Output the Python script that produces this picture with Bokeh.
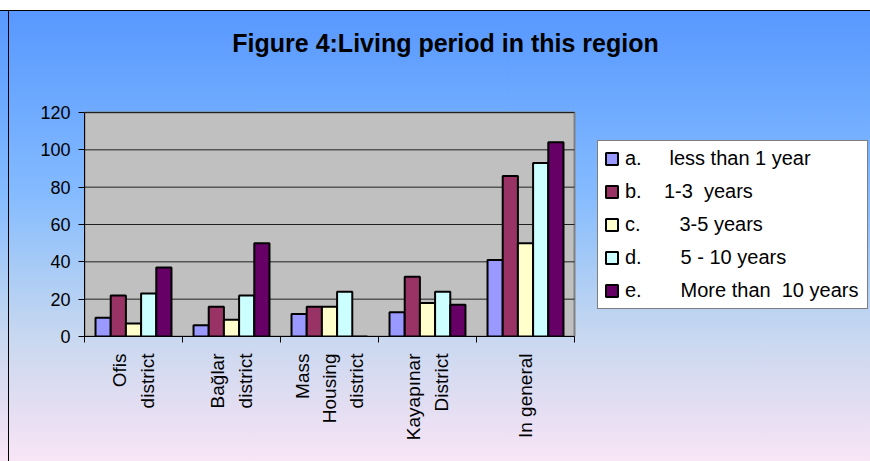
import math
from bokeh.plotting import figure
from bokeh.models import (Range1d, LinearAxis, FixedTicker, Legend, LegendItem, Label,
                          ColumnDataSource)
from bokeh.embed import file_html
from bokeh.resources import INLINE

# ---- data ----
categories = ["Ofis\ndistrict", "Bağlar\ndistrict", "Mass\nHousing\ndistrict",
              "Kayapınar\nDistrict", "In general"]
series_names = ["a.     less than 1 year", "b.    1-3  years", "c.       3-5 years",
                "d.       5 - 10 years", "e.       More than  10 years"]
less_than_1 = [10, 6, 12, 13, 41]
one_to_3 = [22, 16, 16, 32, 86]
three_to_5 = [7, 9, 16, 18, 50]
five_to_10 = [23, 22, 24, 24, 93]
more_than_10 = [37, 50, 0, 17, 104]
y_ticks = [0, 20, 40, 60, 80, 100, 120]
title_text = "Figure 4:Living period in this region"

series = [less_than_1, one_to_3, three_to_5, five_to_10, more_than_10]
colors = ["#9999FF", "#993366", "#FFFFCC", "#CCFFFF", "#660066"]

FONT = "Liberation Sans"
n = len(categories)
x_end = 2 * n          # category slots of width 2
y_end = y_ticks[-1]

# frame covers the area right of the y axis and above the x axis;
# the grey plot area is only a part of it (0..x_end, 0..y_end)
frame_w = 870 - 84
frame_h = 336
px_per_x = 490 / x_end
px_per_y = 224 / y_end

p = figure(width=870, height=461, output_backend="svg", toolbar_location=None,
           x_range=Range1d(0, frame_w / px_per_x), y_range=Range1d(0, frame_h / px_per_y),
           min_border_left=84, min_border_right=0, min_border_top=0,
           min_border_bottom=125, x_axis_type=None, y_axis_type=None, title=None)

p.styles = {"background": (
    "linear-gradient(#000,#000) 8px 10px / 1px 100% no-repeat, "
    "linear-gradient(to bottom, #ffffff 0px, #ffffff 10px, #000000 10px, #000000 11px, "
    "#5898ff 11px, #6eaaff 108px, #86bcff 198px, #a8cbf6 268px, #c8d8f0 338px, "
    "#e4def2 408px, #f8e5f6 461px)")}
p.border_fill_color = None
p.background_fill_color = None
p.outline_line_color = None
p.xgrid.visible = False
p.ygrid.visible = False

# grey plot area
p.quad(left=[0], right=[x_end], bottom=[0], top=[y_end], fill_color="#C0C0C0",
       line_color="#808080", line_width=2)
# horizontal gridlines
p.segment(x0=[0] * len(y_ticks), x1=[x_end] * len(y_ticks), y0=y_ticks, y1=y_ticks,
          line_color="#202020", line_width=1)

# y axis
yaxis = LinearAxis(ticker=FixedTicker(ticks=y_ticks, minor_ticks=[]), bounds=(0, y_end))
yaxis.axis_line_color = "black"
yaxis.major_tick_out = 6
yaxis.major_tick_in = 0
yaxis.major_label_standoff = 8
yaxis.major_label_text_font = FONT
yaxis.major_label_text_font_size = "18px"
yaxis.major_label_text_color = "black"
p.add_layout(yaxis, "left")

# x axis
centers = [2 * i + 1 for i in range(n)]
xaxis = LinearAxis(ticker=FixedTicker(ticks=centers,
                                      minor_ticks=[2 * i for i in range(n + 1)]),
                   bounds=(0, x_end))
xaxis.major_label_overrides = {c: lab for c, lab in zip(centers, categories)}
xaxis.major_label_orientation = math.pi / 2
xaxis.major_tick_line_color = None
xaxis.minor_tick_out = 6
xaxis.minor_tick_in = 0
xaxis.minor_tick_line_color = "black"
xaxis.axis_line_color = "black"
xaxis.major_label_standoff = 11
xaxis.major_label_text_font = FONT
xaxis.major_label_text_font_size = "19px"
xaxis.major_label_text_color = "black"
xaxis.major_label_text_align = "center"
xaxis.major_label_text_line_height = 1.3
p.add_layout(xaxis, "below")

bw = 0.31
items = []
for j, (vals, col, name) in enumerate(zip(series, colors, series_names)):
    xs = [c + (j - 2) * bw for c in centers]
    src = ColumnDataSource(dict(x=xs, top=vals))
    r = p.vbar(x="x", top="top", bottom=0, width=bw, source=src,
               fill_color=col, line_color="black", line_width=2)
    items.append(LegendItem(label=name, renderers=[r]))

legend = Legend(items=items, location=(513, 27))
legend.label_text_font = FONT
legend.label_text_font_size = "20px"
legend.label_text_color = "black"
legend.border_line_color = "black"
legend.border_line_width = 1
legend.background_fill_color = "white"
legend.background_fill_alpha = 1
legend.glyph_width = 15
legend.glyph_height = 15
legend.label_standoff = 6
legend.label_width = 236
legend.padding = 6
legend.spacing = 10
legend.margin = 0
p.add_layout(legend, "center")

title = Label(x=361, y=294, x_units="screen", y_units="screen", text=title_text,
              text_font=FONT, text_font_size="25px", text_font_style="bold",
              text_align="center", text_baseline="middle", text_color="black")
p.add_layout(title)

open("out.html", "w").write(file_html(p, INLINE))
